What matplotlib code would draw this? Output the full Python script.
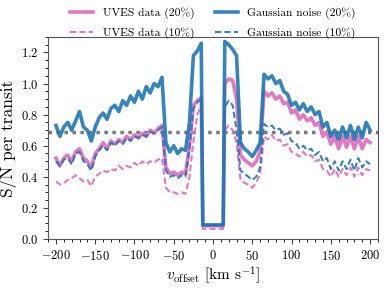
import numpy as np
import matplotlib
matplotlib.use('Agg')
import matplotlib.pyplot as plt
from matplotlib.ticker import MultipleLocator

plt.rcParams['font.family'] = 'serif'
plt.rcParams['font.serif'] = ['cmr10']
plt.rcParams['mathtext.fontset'] = 'cm'
plt.rcParams['axes.formatter.use_mathtext'] = True

# velocity offsets, km/s (edges of the central dip at about +-13)
v_offset = (list(range(-200, -14, 5)) + [-13, -5, 0, 5, 13]
            + list(range(15, 201, 5)))

uves_20 = [0.52, 0.47, 0.52, 0.54, 0.50, 0.56, 0.58, 0.52, 0.50, 0.46,
           0.55, 0.58, 0.62, 0.58, 0.63, 0.61, 0.64, 0.62, 0.66, 0.64,
           0.67, 0.65, 0.68, 0.66, 0.70, 0.68, 0.71, 0.73, 0.46, 0.42,
           0.43, 0.41, 0.43, 0.42, 0.60, 0.86, 0.89, 0.91, 0.085, 0.085,
           0.085, 0.085, 0.085, 1.00, 1.03, 1.02, 0.90, 0.54, 0.51, 0.49,
           0.47, 0.50, 0.56, 0.95, 0.92, 0.94, 0.90, 0.92, 0.87, 0.88,
           0.81, 0.83, 0.77, 0.80, 0.76, 0.78, 0.73, 0.75, 0.66, 0.69,
           0.61, 0.66, 0.58, 0.66, 0.59, 0.66, 0.58, 0.66, 0.58, 0.64,
           0.62]

uves_10 = [0.37, 0.35, 0.36, 0.38, 0.39, 0.41, 0.39, 0.37, 0.38, 0.34,
           0.40, 0.42, 0.44, 0.43, 0.45, 0.44, 0.47, 0.45, 0.47, 0.46,
           0.49, 0.47, 0.50, 0.48, 0.50, 0.49, 0.51, 0.52, 0.33, 0.30,
           0.30, 0.29, 0.30, 0.29, 0.40, 0.63, 0.80, 0.86, 0.065, 0.065,
           0.065, 0.065, 0.065, 0.70, 0.73, 0.70, 0.62, 0.38, 0.36, 0.35,
           0.33, 0.36, 0.42, 0.66, 0.64, 0.67, 0.63, 0.64, 0.60, 0.61,
           0.56, 0.55, 0.53, 0.56, 0.53, 0.54, 0.50, 0.51, 0.45, 0.44,
           0.40, 0.45, 0.40, 0.45, 0.41, 0.46, 0.40, 0.46, 0.41, 0.45,
           0.44]

gauss_20 = [0.73, 0.66, 0.72, 0.75, 0.70, 0.76, 0.82, 0.72, 0.70, 0.63,
            0.72, 0.78, 0.81, 0.77, 0.84, 0.86, 0.82, 0.89, 0.86, 0.92,
            0.88, 0.95, 0.90, 0.98, 0.94, 1.00, 0.98, 1.04, 0.62, 0.56,
            0.60, 0.55, 0.58, 0.57, 0.75, 1.18, 1.21, 1.26, 0.09, 0.09,
            0.09, 0.09, 0.09, 1.27, 1.25, 1.22, 1.18, 0.62, 0.58, 0.56,
            0.53, 0.57, 0.62, 1.06, 1.03, 1.05, 1.00, 1.02, 0.95, 0.93,
            0.86, 0.88, 0.83, 0.87, 0.82, 0.85, 0.80, 0.82, 0.72, 0.75,
            0.66, 0.70, 0.64, 0.72, 0.65, 0.73, 0.64, 0.72, 0.65, 0.75,
            0.70]

gauss_10 = [0.50, 0.47, 0.51, 0.52, 0.48, 0.55, 0.56, 0.50, 0.48, 0.44,
            0.53, 0.57, 0.60, 0.57, 0.62, 0.60, 0.63, 0.61, 0.65, 0.63,
            0.66, 0.65, 0.67, 0.66, 0.69, 0.68, 0.70, 0.72, 0.44, 0.40,
            0.41, 0.39, 0.41, 0.40, 0.58, 0.84, 0.88, 0.90, 0.09, 0.09,
            0.09, 0.09, 0.09, 0.85, 0.89, 0.86, 0.70, 0.44, 0.42, 0.40,
            0.38, 0.40, 0.46, 0.74, 0.72, 0.73, 0.70, 0.71, 0.67, 0.68,
            0.63, 0.62, 0.58, 0.60, 0.57, 0.58, 0.54, 0.56, 0.50, 0.52,
            0.45, 0.50, 0.44, 0.50, 0.45, 0.51, 0.44, 0.52, 0.46, 0.50,
            0.48]

threshold = 0.69

pink = '#e377c2'
blue = '#1f77b4'

fig = plt.figure(figsize=(3.88, 2.91), dpi=100)
ax = fig.add_axes([0.124, 0.179, 0.850, 0.694])

ax.axhline(threshold, color='#777777', lw=2.5, ls=(0, (1, 1.3)), zorder=1)
ax.plot(v_offset, uves_20, color=pink, lw=2.6, label='UVES data (20%)')
ax.plot(v_offset, uves_10, color=pink, lw=1.5, ls=(0, (3, 1.5)), label='UVES data (10%)')
ax.plot(v_offset, gauss_20, color=blue, lw=2.6, alpha=0.9, label='Gaussian noise (20%)')
ax.plot(v_offset, gauss_10, color=blue, lw=1.5, ls=(0, (3, 1.5)), alpha=0.9, label='Gaussian noise (10%)')

ax.set_xlim(-210, 210)
ax.set_ylim(0, 1.3)
ax.xaxis.set_major_locator(MultipleLocator(50))
ax.xaxis.set_minor_locator(MultipleLocator(10))
ax.yaxis.set_major_locator(MultipleLocator(0.2))
ax.yaxis.set_minor_locator(MultipleLocator(0.05))
ax.tick_params(labelsize=9, color='#444444')
for s in ax.spines.values():
    s.set_color('#555555')

ax.set_xlabel(r'$v_{\rm offset}$ [km s$^{-1}$]', fontsize=11, labelpad=1)
ax.set_ylabel('S/N per transit', fontsize=12.5, labelpad=3)

ax.legend(ncol=2, loc='lower center', bbox_to_anchor=(0.5, 0.96), frameon=False,
          fontsize=8.3, handlelength=2.0, columnspacing=1.8, borderaxespad=0.1,
          labelspacing=0.7)

fig.savefig('out.png', dpi=100)
